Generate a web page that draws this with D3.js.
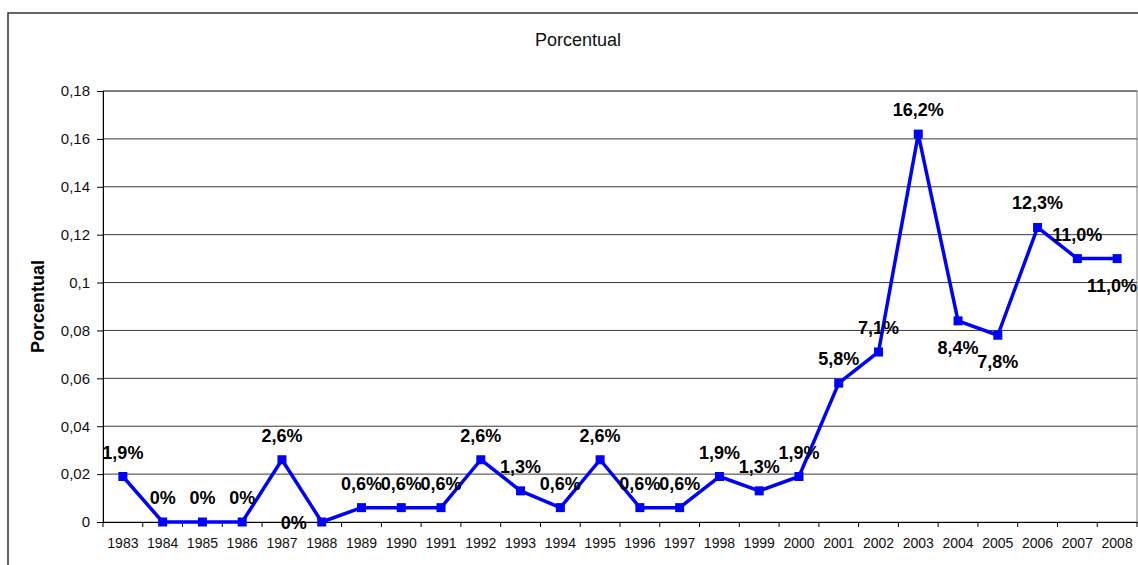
<!DOCTYPE html>
<html>
<head>
<meta charset="utf-8">
<script src="https://cdn.jsdelivr.net/npm/d3@7"></script>
<style>
  body { margin: 0; background: #fff; }
  text { font-family: "Liberation Sans", Arial, sans-serif; }
</style>
</head>
<body>
<div id="chart"></div>
<script>
/* DATA */
const years = [1983, 1984, 1985, 1986, 1987, 1988, 1989, 1990, 1991, 1992, 1993, 1994, 1995,
               1996, 1997, 1998, 1999, 2000, 2001, 2002, 2003, 2004, 2005, 2006, 2007, 2008];
const porcentual = [0.019, 0, 0, 0, 0.026, 0, 0.006, 0.006, 0.006, 0.026, 0.013, 0.006, 0.026,
                    0.006, 0.006, 0.019, 0.013, 0.019, 0.058, 0.071, 0.162, 0.084, 0.078, 0.123, 0.110, 0.110];
// where excel put each data label: t = above, b = below, l = left
const labelPlace = ["t","t","t","t","t","l","t","t","t","t","t","t","t",
                    "t","t","t","t","t","t","t","t","b","b","t","t","b"];
const yTicks = [0, 0.02, 0.04, 0.06, 0.08, 0.1, 0.12, 0.14, 0.16, 0.18];
const chartTitle = "Porcentual";
const yTitle = "Porcentual";

/* CONSTANTS */
const W = 1138, H = 565;
const plot = {left: 103, right: 1137, top: 91, bottom: 522};
const blue = "#0000ff";

const data = years.map((y, i) => ({year: y, value: porcentual[i], place: labelPlace[i]}));

const svg = d3.select("#chart")
  .append("svg")
  .attr("width", W)
  .attr("height", H);

// outer chart border (runs off the right and bottom of the picture)
svg.append("rect")
  .attr("x", 8).attr("y", 13)
  .attr("width", 1300).attr("height", 700)
  .attr("fill", "none")
  .attr("stroke", "#333")
  .attr("stroke-width", 1.5);

// scales
const x = d3.scaleBand()
  .domain(years)
  .range([plot.left, plot.right]);

const y = d3.scaleLinear()
  .domain([0, 0.18])
  .range([plot.bottom, plot.top]);

const fmtTick = d => d3.format("")(d).replace(".", ",");
const fmtLabel = v => v === 0 ? "0%" : (v * 100).toFixed(1).replace(".", ",") + "%";

// plot area border
svg.append("rect")
  .attr("x", plot.left).attr("y", plot.top)
  .attr("width", plot.right - plot.left)
  .attr("height", plot.bottom - plot.top)
  .attr("fill", "none")
  .attr("stroke", "#808080")
  .attr("stroke-width", 1);

// gridlines
svg.append("g")
  .selectAll("line")
  .data(yTicks.filter(d => d > 0))
  .join("line")
  .attr("x1", plot.left).attr("x2", plot.right)
  .attr("y1", d => y(d)).attr("y2", d => y(d))
  .attr("stroke", "#3a3a3a")
  .attr("stroke-width", 1);

// y axis
const yAxis = d3.axisLeft(y)
  .tickValues(yTicks)
  .tickFormat(fmtTick)
  .tickSize(6)
  .tickPadding(7);

const gy = svg.append("g")
  .attr("transform", `translate(${plot.left},0)`)
  .call(yAxis);
gy.select(".domain").attr("stroke", "#000");
gy.selectAll(".tick line").attr("stroke", "#000");
gy.selectAll(".tick text")
  .attr("font-size", 15)
  .attr("fill", "#111")
  .style("font-family", "'Liberation Sans', Arial, sans-serif");

// x axis, ticks sit between categories like excel
const xAxis = d3.axisBottom(x)
  .tickSize(0)
  .tickPadding(16);

const gx = svg.append("g")
  .attr("transform", `translate(0,${plot.bottom})`)
  .call(xAxis);
gx.select(".domain").attr("stroke", "#000");
gx.selectAll(".tick text")
  .attr("font-size", 14)
  .attr("fill", "#111")
  .style("font-family", "'Liberation Sans', Arial, sans-serif");

gx.selectAll(".sep")
  .data(years)
  .join("line")
  .attr("class", "sep")
  .attr("x1", d => x(d)).attr("x2", d => x(d))
  .attr("y1", 0).attr("y2", 5)
  .attr("stroke", "#000");
gx.append("line")
  .attr("x1", plot.right).attr("x2", plot.right)
  .attr("y1", 0).attr("y2", 5)
  .attr("stroke", "#000");

// line
const cx = d => x(d.year) + x.bandwidth() / 2;

svg.append("path")
  .datum(data)
  .attr("fill", "none")
  .attr("stroke", blue)
  .attr("stroke-width", 3.5)
  .attr("stroke-linejoin", "round")
  .attr("d", d3.line().x(cx).y(d => y(d.value)));

// square markers
svg.append("g")
  .selectAll("rect")
  .data(data)
  .join("rect")
  .attr("x", d => cx(d) - 4.5)
  .attr("y", d => y(d.value) - 4.5)
  .attr("width", 9)
  .attr("height", 9)
  .attr("fill", blue);

// data labels
const labels = svg.append("g")
  .selectAll("text")
  .data(data)
  .join("text")
  .attr("x", d => d.place === "l" ? cx(d) - 15 : cx(d))
  .attr("y", d => {
    if (d.place === "b") return y(d.value) + 33;
    if (d.place === "l") return y(d.value) + 7;
    return y(d.value) - 18;
  })
  .attr("text-anchor", d => d.place === "l" ? "end" : "middle")
  .attr("font-size", 18)
  .attr("font-weight", "bold")
  .attr("fill", "#000")
  .text(d => fmtLabel(d.value));

// keep labels inside the picture
labels.each(function() {
  const b = this.getBBox();
  const over = b.x + b.width - (W - 1);
  if (over > 0) d3.select(this).attr("x", +d3.select(this).attr("x") - over);
});

// chart title
svg.append("text")
  .attr("x", 578)
  .attr("y", 46)
  .attr("text-anchor", "middle")
  .attr("font-size", 18)
  .attr("fill", "#111")
  .text(chartTitle);

// y axis title
svg.append("text")
  .attr("transform", `translate(44,${(plot.top + plot.bottom) / 2}) rotate(-90)`)
  .attr("text-anchor", "middle")
  .attr("font-size", 18)
  .attr("font-weight", "bold")
  .attr("fill", "#000")
  .text(yTitle);
</script>
</body>
</html>
